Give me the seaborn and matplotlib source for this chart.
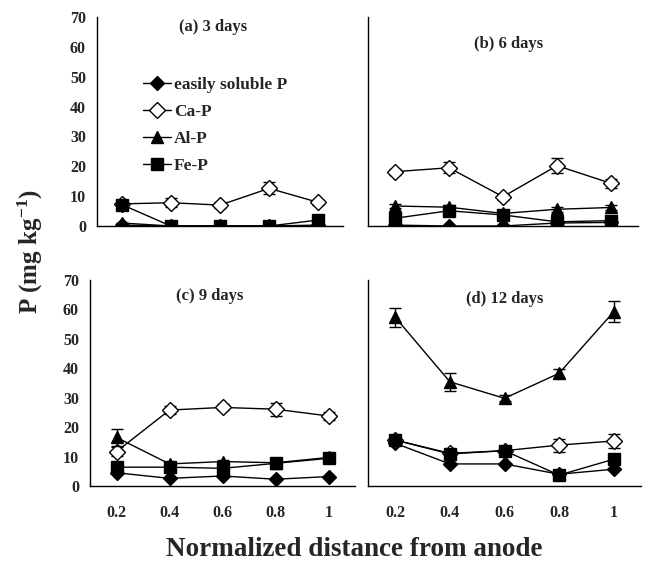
import numpy as np
import pandas as pd
import matplotlib
matplotlib.use("Agg")
import matplotlib.pyplot as plt
import seaborn as sns

sns.set_style("white")
plt.rcParams['font.family'] = ['Liberation Serif', 'DejaVu Serif']
plt.rcParams['font.weight'] = 'bold'
plt.rcParams['mathtext.fontset'] = 'custom'
plt.rcParams['mathtext.rm'] = 'Liberation Serif:bold'
plt.rcParams['mathtext.it'] = 'Liberation Serif:bold'
plt.rcParams['mathtext.bf'] = 'Liberation Serif:bold'

# ---------------- data ----------------
distance = [0.2, 0.4, 0.6, 0.8, 1.0]
x_labels = ["0.2", "0.4", "0.6", "0.8", "1"]
series = ["easily soluble P", "Ca-P", "Al-P", "Fe-P"]
panel_titles = ["(a) 3 days", "(b) 6 days", "(c) 9 days", "(d) 12 days"]

# (a) 3 days
a_easy = [0.3, 0.0, 0.0, 0.0, 0.3]
a_ca   = [7.4, 7.8, 7.0, 12.6, 7.9]
a_al   = [1.0, 0.0, 0.0, 0.0, 0.0]
a_fe   = [7.2, 0.0, 0.0, 0.0, 2.0]
a_ca_err = [0.5, 1.5, 1.0, 2.0, 0.8]
a_al_err = [0.0, 0.0, 0.0, 0.0, 0.0]

# (b) 6 days
b_easy = [0.3, 0.0, 0.0, 1.0, 1.2]
b_ca   = [18.2, 19.5, 9.8, 20.2, 14.3]
b_al   = [6.7, 6.3, 4.2, 5.6, 6.2]
b_fe   = [2.6, 5.1, 3.7, 1.4, 1.8]
b_ca_err = [1.0, 1.8, 1.0, 2.5, 1.6]
b_al_err = [0.8, 0.6, 0.5, 0.8, 0.8]

# (c) 9 days
c_easy = [4.5, 2.6, 3.4, 2.3, 3.2]
c_ca   = [11.7, 25.8, 26.7, 26.1, 23.8]
c_al   = [16.5, 7.5, 8.3, 7.9, 9.7]
c_fe   = [6.4, 6.4, 6.0, 7.7, 9.4]
c_ca_err = [1.5, 1.5, 1.0, 2.2, 1.3]
c_al_err = [3.0, 0.5, 0.5, 0.5, 0.5]

# (d) 12 days
d_easy = [14.5, 7.5, 7.5, 4.0, 5.7]
d_ca   = [15.6, 11.1, 12.0, 13.9, 15.3]
d_al   = [57.3, 35.4, 29.8, 38.3, 59.2]
d_fe   = [15.6, 10.9, 12.0, 3.7, 9.1]
d_ca_err = [1.0, 1.0, 1.0, 2.2, 2.5]
d_al_err = [3.2, 3.0, 1.0, 1.5, 3.5]

panels = [
    (a_easy, a_ca, a_al, a_fe, a_ca_err, a_al_err),
    (b_easy, b_ca, b_al, b_fe, b_ca_err, b_al_err),
    (c_easy, c_ca, c_al, c_fe, c_ca_err, c_al_err),
    (d_easy, d_ca, d_al, d_fe, d_ca_err, d_al_err),
]

styles = {
    "easily soluble P": dict(marker="D", markerfacecolor="black", markersize=7.5),
    "Ca-P": dict(marker="D", markerfacecolor="white", markersize=8),
    "Al-P": dict(marker="^", markerfacecolor="black", markersize=9),
    "Fe-P": dict(marker="s", markerfacecolor="black", markersize=8.5),
}

W, H = 646, 567
fig = plt.figure(figsize=(W / 100, H / 100), dpi=100)

# pixel boxes: left, right, top, bottom
boxes = [(97, 343, 17, 226), (368, 638, 17, 226),
         (90, 355, 280, 486), (368, 641, 280, 486)]
title_pos = [(0.47, 0.95), (0.52, 0.87), (0.45, 0.92), (0.50, 0.91)]

for i, (box, pdata) in enumerate(zip(boxes, panels)):
    l, r, t, b = box
    ax = fig.add_axes([l / W, (H - b) / H, (r - l) / W, (b - t) / H])
    easy, ca, al, fe, ca_err, al_err = pdata
    values = {"easily soluble P": easy, "Ca-P": ca, "Al-P": al, "Fe-P": fe}
    errs = {"Ca-P": ca_err, "Al-P": al_err}
    for k, name in enumerate(series):
        df = pd.DataFrame({"distance": distance, "P": values[name]})
        if name in errs:
            ax.errorbar(df["distance"], df["P"], yerr=errs[name], fmt="none",
                        ecolor="black", elinewidth=1.0, capsize=4, capthick=1.0,
                        zorder=2 + k)
        sns.lineplot(data=df, x="distance", y="P", ax=ax, color="black",
                     linewidth=1.0, markeredgecolor="black", markeredgewidth=1.0,
                     label=name if i == 0 else None, legend=False,
                     zorder=3 + k, **styles[name])
    ax.set_xlim(0.1, 1.1)
    ax.set_ylim(0, 70)
    ax.set_yticks(range(0, 71, 10))
    ax.set_xticks(distance)
    ax.set_xticks([0.3, 0.5, 0.7, 0.9, 1.1], minor=True)
    ax.tick_params(axis="x", which="major", length=0, pad=14, labelsize=11.5)
    ax.tick_params(axis="x", which="minor", direction="in", length=4, width=1)
    ax.tick_params(axis="y", which="major", direction="in", length=4, width=1,
                   labelsize=11.5, pad=8)
    if i in (0, 1):
        ax.set_xticklabels([])
    else:
        ax.set_xticklabels(x_labels)
    if i in (1, 3):
        ax.set_yticklabels([])
    for lab in ax.get_xticklabels() + ax.get_yticklabels():
        lab.set_fontweight("bold")
    for s in ["top", "right"]:
        ax.spines[s].set_visible(False)
    for s in ["left", "bottom"]:
        ax.spines[s].set_color("black")
        ax.spines[s].set_linewidth(1.0)
    ax.set_xlabel("")
    ax.set_ylabel("")
    ax.text(title_pos[i][0], title_pos[i][1], panel_titles[i],
            transform=ax.transAxes, ha="center", va="center",
            fontsize=12, fontweight="bold")
    if i == 0:
        ax.legend(loc="upper left", bbox_to_anchor=(0.15, 0.755), frameon=False,
                  handlelength=1.65, labelspacing=0.62, handletextpad=0.15,
                  borderpad=0, prop=dict(weight="bold", size=12.5))

fig.text(354 / W, 1 - 550 / H, "Normalized distance from anode",
         ha="center", va="center", fontsize=19.5, fontweight="bold")
fig.text(30 / W, 1 - 252 / H, r"P (mg kg$^{-1}$)", rotation=90,
         ha="center", va="center", fontsize=18, fontweight="bold")

fig.savefig("out.png", dpi=100)
